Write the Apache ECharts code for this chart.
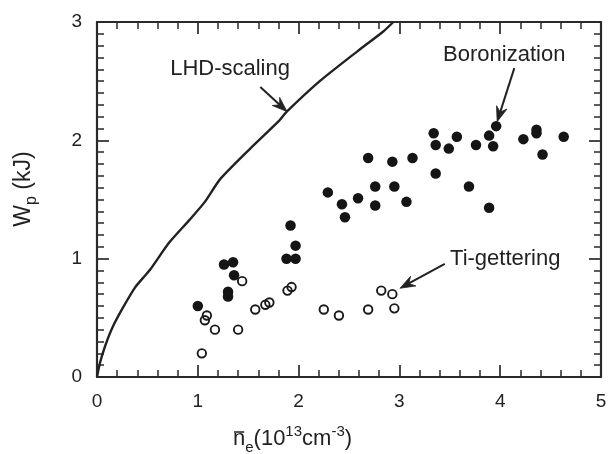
<!DOCTYPE html>
<html>
<head>
<meta charset="utf-8">
<script src="https://cdn.jsdelivr.net/npm/echarts@6/dist/echarts.min.js"></script>
<style>
html, body { margin: 0; padding: 0; background: #fff; }
#chart { width: 614px; height: 454px; }
</style>
</head>
<body>
<div id="chart"></div>
<script>
// Stored energy W_p against line-averaged electron density

const xTickLabels = ['0', '1', '2', '3', '4', '5'];
const yTickLabels = ['0', '1', '2', '3'];

// LHD scaling curve, [n_e (1e13 cm^-3), W_p (kJ)]
const lhdScaling = [
  [0, 0], [0.03, 0.12], [0.08, 0.26], [0.16, 0.43], [0.26, 0.59], [0.38, 0.76],
  [0.48, 0.86], [0.53, 0.91], [0.72, 1.14], [0.92, 1.33], [1.07, 1.48], [1.22, 1.67],
  [1.52, 1.93], [1.80, 2.16], [1.88, 2.24], [2.21, 2.50], [2.58, 2.75], [2.84, 2.92],
  [2.94, 3.0]
];

// Discharges after boronization (filled circles)
const boronization = [
  [1.00, 0.60], [1.26, 0.95], [1.35, 0.97], [1.36, 0.86], [1.30, 0.72], [1.30, 0.68],
  [1.92, 1.28], [1.97, 1.11], [1.88, 1.00], [1.97, 1.00], [2.29, 1.56], [2.43, 1.46],
  [2.46, 1.35], [2.59, 1.51], [2.69, 1.85], [2.76, 1.61], [2.76, 1.45], [2.93, 1.82],
  [2.95, 1.61], [3.07, 1.48], [3.13, 1.85], [3.34, 2.06], [3.36, 1.96], [3.36, 1.72],
  [3.49, 1.93], [3.57, 2.03], [3.69, 1.61], [3.76, 1.96], [3.89, 2.04], [3.96, 2.12],
  [3.93, 1.95], [3.89, 1.43], [4.23, 2.01], [4.36, 2.09], [4.36, 2.06], [4.42, 1.88],
  [4.63, 2.03]
];

// Discharges with Ti-gettering (open circles)
const tiGettering = [
  [1.04, 0.20], [1.09, 0.52], [1.07, 0.48], [1.17, 0.40], [1.40, 0.40], [1.44, 0.81],
  [1.57, 0.57], [1.67, 0.61], [1.71, 0.63], [1.89, 0.73], [1.93, 0.76], [2.25, 0.57],
  [2.40, 0.52], [2.69, 0.57], [2.82, 0.73], [2.93, 0.70], [2.95, 0.58]
];

// Callout texts with their arrows (tail -> tip), in data units
const callouts = [
  { text: 'LHD-scaling',  at: [1.32, 2.60], from: [1.62, 2.45], to: [1.885, 2.243] },
  { text: 'Boronization', at: [4.04, 2.72], from: [4.14, 2.61], to: [3.97, 2.158] },
  { text: 'Ti-gettering', at: [4.05, 1.00], from: [3.45, 0.955], to: [3.006, 0.75] }
];

const FONT = '"Liberation Sans", Arial, Helvetica, sans-serif';
const INK = '#222';

const chart = echarts.init(document.getElementById('chart'), null, { renderer: 'canvas' });

function frameAxis(position, showLabels, labels, minorSplit) {
  return {
    type: 'value',
    position: position,
    min: 0,
    max: labels.length - 1,
    interval: 1,
    axisLine: { show: true, onZero: false, lineStyle: { color: '#2a2a2a', width: 2.2 } },
    axisTick: { show: true, inside: true, length: 12, lineStyle: { color: '#2a2a2a', width: 1.7 } },
    minorTick: { show: true, splitNumber: minorSplit, length: 7, lineStyle: { color: '#2a2a2a', width: 1.5 } },
    splitLine: { show: false },
    minorSplitLine: { show: false },
    axisLabel: {
      show: showLabels,
      margin: 15,
      fontSize: 19,
      fontFamily: FONT,
      color: INK,
      formatter: function (v) { return labels[Math.round(v)]; }
    }
  };
}

const option = {
  animation: false,
  backgroundColor: '#fff',
  grid: { left: 97, right: 13, top: 22, bottom: 77, containLabel: false },
  xAxis: [
    frameAxis('bottom', true, xTickLabels, 5),
    frameAxis('top', false, xTickLabels, 5)
  ],
  yAxis: [
    frameAxis('left', true, yTickLabels, 10),
    frameAxis('right', false, yTickLabels, 10)
  ],
  series: [
    {
      name: 'LHD-scaling',
      type: 'line',
      data: lhdScaling,
      showSymbol: false,
      symbol: 'none',
      smooth: 0.2,
      clip: true,
      lineStyle: { color: INK, width: 2.4 }
    },
    {
      name: 'Boronization',
      type: 'scatter',
      data: boronization,
      symbol: 'circle',
      symbolSize: 10.5,
      itemStyle: { color: '#151515', opacity: 1 }
    },
    {
      name: 'Ti-gettering',
      type: 'scatter',
      data: tiGettering,
      symbol: 'circle',
      symbolSize: 8.5,
      itemStyle: { color: 'rgba(255,255,255,0)', borderColor: '#1a1a1a', borderWidth: 1.9, opacity: 1 }
    }
  ]
};

chart.setOption(option);

// Text run with sub/superscripts laid out left to right along a baseline at y = 0
const measureCtx = document.createElement('canvas').getContext('2d');
function textRun(parts) {
  let x = 0;
  const children = [];
  const spans = [];
  parts.forEach(function (p) {
    measureCtx.font = p.size + 'px ' + FONT;
    const w = measureCtx.measureText(p.t).width;
    spans.push({ x: x, w: w });
    children.push({
      type: 'text',
      x: x,
      y: (p.dy || 0) - 0.35 * p.size,
      style: {
        text: p.t, fontSize: p.size, fontFamily: FONT, fill: INK,
        align: 'left', verticalAlign: 'middle',
        textAlign: 'left', textVerticalAlign: 'middle'
      }
    });
    x += w;
  });
  return { children: children, width: x, spans: spans };
}

// Straight arrow with a notched head whose point sits on the tip
function arrow(tail, tip) {
  const dx = tip[0] - tail[0], dy = tip[1] - tail[1];
  const len = Math.sqrt(dx * dx + dy * dy);
  const ux = dx / len, uy = dy / len;
  const nx = -uy, ny = ux;
  const L = 15, W = 5.5, notch = 10;
  const base = [tip[0] - L * ux, tip[1] - L * uy];
  return [
    {
      type: 'line',
      shape: { x1: tail[0], y1: tail[1], x2: tip[0] - notch * ux, y2: tip[1] - notch * uy },
      style: { stroke: INK, lineWidth: 2 }
    },
    {
      type: 'polygon',
      shape: {
        points: [
          tip,
          [base[0] + W * nx, base[1] + W * ny],
          [tip[0] - notch * ux, tip[1] - notch * uy],
          [base[0] - W * nx, base[1] - W * ny]
        ]
      },
      style: { fill: INK, stroke: INK, lineWidth: 0.8, lineJoin: 'miter' }
    }
  ];
}

const graphics = [];
const toPx = function (pt) { return chart.convertToPixel({ xAxisIndex: 0, yAxisIndex: 0 }, pt); };

// Callout texts and arrows
callouts.forEach(function (c) {
  const p = toPx(c.at);
  graphics.push({
    type: 'text', x: p[0], y: p[1],
    style: {
      text: c.text, fontSize: 22, fontFamily: FONT, fill: INK,
      align: 'center', verticalAlign: 'middle',
      textAlign: 'center', textVerticalAlign: 'middle'
    }
  });
  arrow(toPx(c.from), toPx(c.to)).forEach(function (g) { graphics.push(g); });
});

// x-axis title: n̄_e (10^13 cm^-3)
const xTitle = textRun([
  { t: 'n', size: 22 },
  { t: 'e', size: 15, dy: 6 },
  { t: '(10', size: 22 },
  { t: '13', size: 15, dy: -10 },
  { t: 'cm', size: 22 },
  { t: '-3', size: 15, dy: -10 },
  { t: ')', size: 22 }
]);
const nSpan = xTitle.spans[0];
xTitle.children.push({
  type: 'line',
  shape: { x1: nSpan.x + 1, y1: -15, x2: nSpan.x + nSpan.w - 1, y2: -15 },
  style: { stroke: INK, lineWidth: 1.5 }
});
graphics.push({ type: 'group', x: 233, y: 447, children: xTitle.children });

// y-axis title: W_p (kJ), reading bottom to top
const yTitle = textRun([
  { t: 'W', size: 23 },
  { t: 'p', size: 16, dy: 5 },
  { t: ' (kJ)', size: 23 }
]);
yTitle.children.forEach(function (ch) { ch.x -= yTitle.width / 2; });
graphics.push({ type: 'group', x: 32, y: 189, rotation: Math.PI / 2, children: yTitle.children });

chart.setOption({ graphic: graphics });
</script>
</body>
</html>
